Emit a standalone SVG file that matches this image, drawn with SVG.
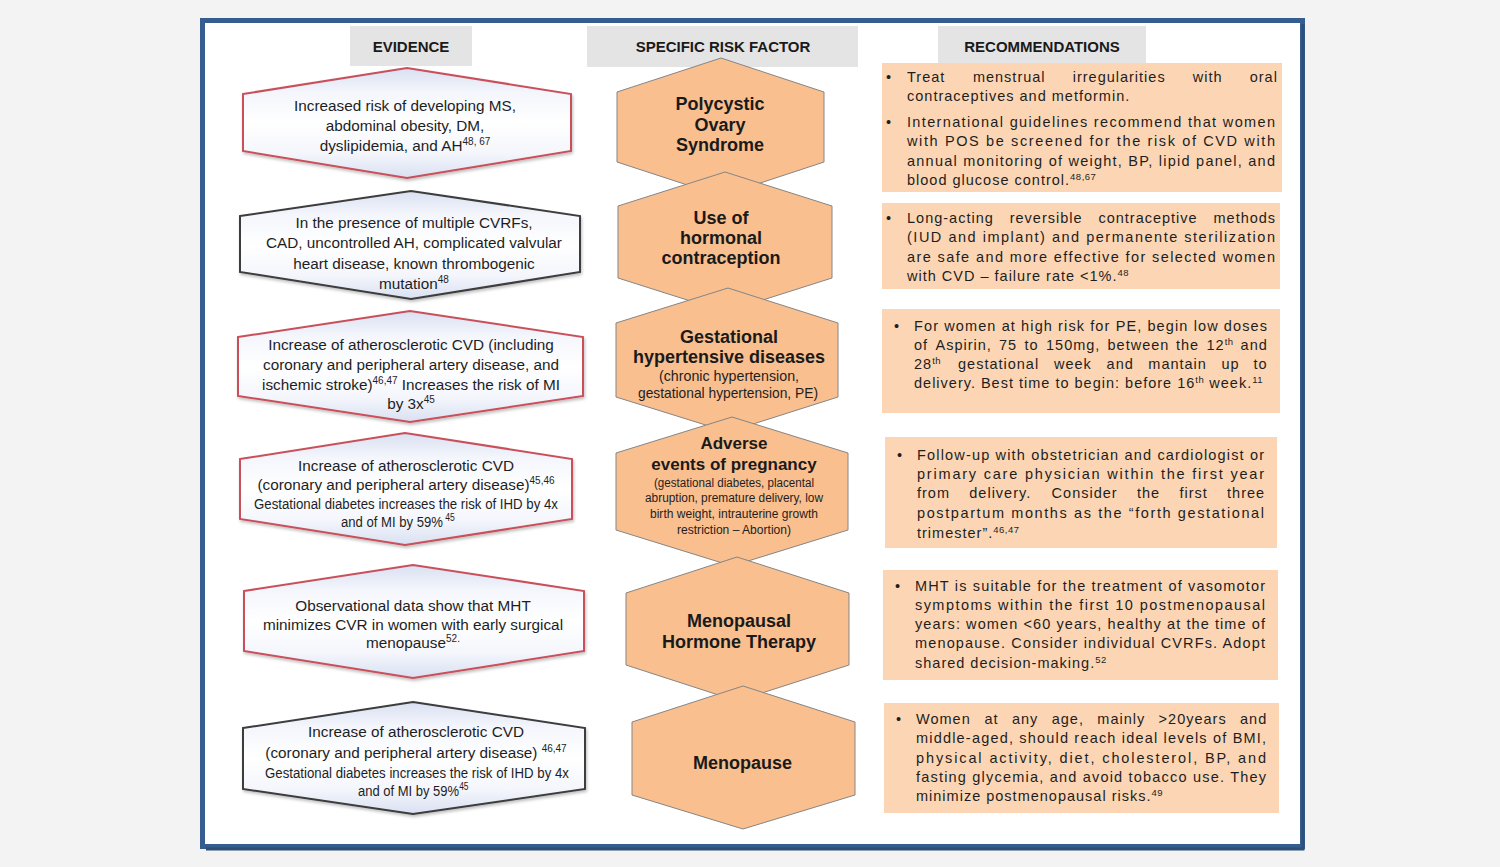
<svg xmlns="http://www.w3.org/2000/svg" width="1500" height="867" viewBox="0 0 1500 867">
<defs>
<linearGradient id="evg" x1="0" y1="0" x2="0" y2="1">
<stop offset="0" stop-color="#d9e0f1"/>
<stop offset="0.22" stop-color="#f4f6fc"/>
<stop offset="0.5" stop-color="#ffffff"/>
<stop offset="0.78" stop-color="#f4f6fc"/>
<stop offset="1" stop-color="#d9e0f1"/>
</linearGradient>
<filter id="sh" x="-5%" y="-10%" width="110%" height="125%">
<feDropShadow dx="1" dy="2" stdDeviation="1.5" flood-color="#000" flood-opacity="0.25"/>
</filter>
<style>
.hdr{fill:#e4e4e4}
.hdrt{font-family:'Liberation Sans',Arial,sans-serif;font-weight:bold;font-size:15px;fill:#1a1a1a;text-anchor:middle}
.ev{fill:url(#evg);stroke-width:2;filter:url(#sh)}
.evr{stroke:#c9505a}
.evd{stroke:#3c3c3c}
.evt{font-family:'Liberation Sans',Arial,sans-serif;font-size:15.3px;fill:#1e1e1e;text-anchor:middle}
.evc{font-family:'Liberation Sans',Arial,sans-serif;font-size:15.3px;fill:#1e1e1e}
.rf{fill:#f9bf8f;stroke:#858585;stroke-width:1}
.rft{font-family:'Liberation Sans',Arial,sans-serif;font-weight:bold;font-size:18px;fill:#1a1a1a;text-anchor:middle}
.rfs{font-family:'Liberation Sans',Arial,sans-serif;font-size:15px;fill:#1e1e1e;text-anchor:middle}
.rfx{font-family:'Liberation Sans',Arial,sans-serif;font-size:12.5px;fill:#1e1e1e;text-anchor:middle}
.rec{fill:#fcd6b4}
.rt{font-family:'Liberation Sans',Arial,sans-serif;font-size:14.5px;letter-spacing:1px;fill:#1e1e1e}
.s{font-size:9.5px;letter-spacing:0.5px}
.se{font-size:10px}
</style>
</defs>
<rect x="0" y="0" width="1500" height="867" fill="#f3f3f3"/>
<rect x="202.5" y="20.5" width="1100" height="826" fill="#ffffff" stroke="#355d8f" stroke-width="5"/>
<path d="M1303 24 V849 H206" fill="none" stroke="#2e4f78" stroke-width="3"/>

<g id="headers">
<rect class="hdr" x="350" y="26" width="122" height="40"/>
<text class="hdrt" x="411" y="51.5">EVIDENCE</text>
<rect class="hdr" x="587" y="26" width="271" height="41"/>
<text class="hdrt" x="723" y="52">SPECIFIC RISK FACTOR</text>
<rect class="hdr" x="938" y="26" width="208" height="38"/>
<text class="hdrt" x="1042" y="51.5">RECOMMENDATIONS</text>
</g>

<g id="connectors"></g>

<g id="evidence-1">
<polygon class="ev evr" points="243,94 407,68 571,94 571,151 407,178 243,151"/>
<text class="evt" x="405" y="110.5">Increased risk of developing MS,</text>
<text class="evt" x="405" y="130.5">abdominal obesity, DM,</text>
<text class="evt" x="405" y="150.5">dyslipidemia, and AH<tspan class="se" dy="-6">48, 67</tspan></text>
</g>
<g id="evidence-2">
<polygon class="ev evd" points="240,216 411,191 580,216 580,272 411,299 240,272"/>
<text class="evt" x="414" y="228">In the presence of multiple CVRFs,</text>
<text class="evt" x="414" y="248">CAD, uncontrolled AH, complicated valvular</text>
<text class="evt" x="414" y="269">heart disease, known thrombogenic</text>
<text class="evt" x="414" y="289">mutation<tspan class="se" dy="-6">48</tspan></text>
</g>
<g id="evidence-3">
<polygon class="ev evr" points="238,337 410,311 583,337 583,396 410,422 238,396"/>
<text class="evt" x="411" y="350">Increase of atherosclerotic CVD (including</text>
<text class="evt" x="411" y="370">coronary and peripheral artery disease, and</text>
<text class="evt" x="411" y="390">ischemic stroke)<tspan class="se" dy="-6">46,47</tspan><tspan dy="6"> Increases the risk of MI</tspan></text>
<text class="evt" x="411" y="409">by 3x<tspan class="se" dy="-6">45</tspan></text>
</g>
<g id="evidence-4">
<polygon class="ev evr" points="240,459 405,433 572,459 572,519 405,545 240,519"/>
<text class="evt" x="406" y="471">Increase of atherosclerotic CVD</text>
<text class="evt" x="406" y="490">(coronary and peripheral artery disease)<tspan class="se" dy="-6">45,46</tspan></text>
<text class="evc" x="254" y="508.5" textLength="304" lengthAdjust="spacingAndGlyphs">Gestational diabetes increases the risk of IHD by 4x</text>
<text class="evc" transform="translate(341,527) scale(0.857,1)">and of MI by 59%<tspan class="se" dy="-6"> 45</tspan></text>
</g>
<g id="evidence-5">
<polygon class="ev evr" points="244,591 413,565 584,591 584,651 413,678 244,651"/>
<text class="evt" x="413" y="611">Observational data show that MHT</text>
<text class="evt" x="413" y="630">minimizes CVR in women with early surgical</text>
<text class="evt" x="413" y="648">menopause<tspan class="se" dy="-6">52.</tspan></text>
</g>
<g id="evidence-6">
<polygon class="ev evd" points="243,728 413,702 585,728 585,789 413,814 243,789"/>
<text class="evt" x="416" y="737">Increase of atherosclerotic CVD</text>
<text class="evt" x="416" y="758">(coronary and peripheral artery disease) <tspan class="se" dy="-6">46,47</tspan></text>
<text class="evc" x="265" y="777.5" textLength="304" lengthAdjust="spacingAndGlyphs">Gestational diabetes increases the risk of IHD by 4x</text>
<text class="evc" transform="translate(358,796) scale(0.85,1)">and of MI by 59%<tspan class="se" dy="-6">45</tspan></text>
</g>

<g id="risk-1">
<polygon class="rf" points="721,58 824,92 824,162 721,196 617,162 617,92"/>
<text class="rft" x="720" y="110">Polycystic</text>
<text class="rft" x="720" y="130.5">Ovary</text>
<text class="rft" x="720" y="150.5">Syndrome</text>
</g>
<g id="risk-2">
<polygon class="rf" points="725,172 832,206 832,278 725,312 618,278 618,206"/>
<text class="rft" x="721" y="224">Use of</text>
<text class="rft" x="721" y="244">hormonal</text>
<text class="rft" x="721" y="264">contraception</text>
</g>
<g id="risk-3">
<polygon class="rf" points="728,288 838,323 838,397 728,432 616,397 616,323"/>
<text class="rft" x="729" y="343">Gestational</text>
<text class="rft" x="729" y="362.5">hypertensive diseases</text>
<text class="rfs" x="729" y="381" textLength="140" lengthAdjust="spacingAndGlyphs">(chronic hypertension,</text>
<text class="rfs" x="728" y="398" textLength="180" lengthAdjust="spacingAndGlyphs">gestational hypertension, PE)</text>
</g>
<g id="risk-4">
<polygon class="rf" points="732,417 848,453 848,530 732,566 616,530 616,453"/>
<text class="rft" x="734" y="449" style="font-size:17px">Adverse</text>
<text class="rft" x="734" y="470" style="font-size:17px">events of pregnancy</text>
<text class="rfx" x="734" y="486.5" textLength="160" lengthAdjust="spacingAndGlyphs">(gestational diabetes, placental</text>
<text class="rfx" x="734" y="502" textLength="178" lengthAdjust="spacingAndGlyphs">abruption, premature delivery, low</text>
<text class="rfx" x="734" y="517.5" textLength="168" lengthAdjust="spacingAndGlyphs">birth weight, intrauterine growth</text>
<text class="rfx" x="734" y="533.5" textLength="114" lengthAdjust="spacingAndGlyphs">restriction – Abortion)</text>
</g>
<g id="risk-5">
<polygon class="rf" points="737,557 849,593 849,665 737,701 626,665 626,593"/>
<text class="rft" x="739" y="626.5">Menopausal</text>
<text class="rft" x="739" y="647.5">Hormone Therapy</text>
</g>
<g id="risk-6">
<polygon class="rf" points="743,686 855,722 855,795 743,829 632,795 632,722"/>
<text class="rft" x="742.5" y="768.5">Menopause</text>
</g>

<g id="rec-1">
<rect class="rec" x="882" y="63" width="400" height="129"/>
<text class="rt" x="886" y="82">•</text>
<text class="rt" y="82"><tspan x="907">Treat</tspan><tspan x="972.9">menstrual</tspan><tspan x="1072.7">irregularities</tspan><tspan x="1192.8">with</tspan><tspan x="1249.7">oral</tspan></text>
<text class="rt" x="907" y="101">contraceptives and metformin.</text>
<text class="rt" x="886" y="127">•</text>
<text class="rt" x="907" y="127" textLength="369" lengthAdjust="spacing">International guidelines recommend that women</text>
<text class="rt" x="907" y="146" textLength="369" lengthAdjust="spacing">with POS be screened for the risk of CVD with</text>
<text class="rt" x="907" y="166" textLength="369" lengthAdjust="spacing">annual monitoring of weight, BP, lipid panel, and</text>
<text class="rt" x="907" y="185">blood glucose control.<tspan class="s" dy="-5.5">48,67</tspan></text>
</g>
<g id="rec-2">
<rect class="rec" x="882" y="203" width="398" height="86"/>
<text class="rt" x="886" y="223">•</text>
<text class="rt" y="223"><tspan x="907">Long-acting</tspan><tspan x="1009.7">reversible</tspan><tspan x="1098.4">contraceptive</tspan><tspan x="1213.5">methods</tspan></text>
<text class="rt" x="907" y="242" textLength="369" lengthAdjust="spacing">(IUD and implant) and permanente sterilization</text>
<text class="rt" x="907" y="262" textLength="369" lengthAdjust="spacing">are safe and more effective for selected women</text>
<text class="rt" x="907" y="281">with CVD – failure rate &lt;1%.<tspan class="s" dy="-5.5">48</tspan></text>
</g>
<g id="rec-3">
<rect class="rec" x="882" y="309" width="398" height="104"/>
<text class="rt" x="894" y="331">•</text>
<text class="rt" x="914" y="331" textLength="354" lengthAdjust="spacing">For women at high risk for PE, begin low doses</text>
<text class="rt" y="350"><tspan x="914">of</tspan><tspan x="935.5">Aspirin,</tspan><tspan x="999">75</tspan><tspan x="1024.5">to</tspan><tspan x="1046">150mg,</tspan><tspan x="1107.5">between</tspan><tspan x="1176">the</tspan><tspan x="1206.5">12</tspan><tspan class="s" dy="-5.5">th</tspan><tspan x="1240.6" dy="5.5">and</tspan></text>
<text class="rt" y="369"><tspan x="914">28</tspan><tspan class="s" dy="-5.5">th</tspan><tspan x="958" dy="5.5">gestational</tspan><tspan x="1054">week</tspan><tspan x="1106.6">and</tspan><tspan x="1148.3">mantain</tspan><tspan x="1221.4">up</tspan><tspan x="1253.5">to</tspan></text>
<text class="rt" x="914" y="388">delivery. Best time to begin: before 16<tspan class="s" dy="-5.5">th</tspan><tspan dy="5.5"> week.</tspan><tspan class="s" dy="-5.5">11</tspan></text>
</g>
<g id="rec-4">
<rect class="rec" x="885" y="437" width="392" height="111"/>
<text class="rt" x="897" y="460">•</text>
<text class="rt" x="917" y="460" textLength="348" lengthAdjust="spacing">Follow-up with obstetrician and cardiologist or</text>
<text class="rt" x="917" y="479" textLength="348" lengthAdjust="spacing">primary care physician within the first year</text>
<text class="rt" y="498"><tspan x="917">from</tspan><tspan x="969.3">delivery.</tspan><tspan x="1051.6">Consider</tspan><tspan x="1136.9">the</tspan><tspan x="1179.4">first</tspan><tspan x="1227.1">three</tspan></text>
<text class="rt" x="917" y="518" textLength="348" lengthAdjust="spacing">postpartum months as the “forth gestational</text>
<text class="rt" x="917" y="538">trimester”.<tspan class="s" dy="-5.5">46,47</tspan></text>
</g>
<g id="rec-5">
<rect class="rec" x="883" y="570" width="395" height="110"/>
<text class="rt" x="895" y="591">•</text>
<text class="rt" x="915" y="591" textLength="351" lengthAdjust="spacing">MHT is suitable for the treatment of vasomotor</text>
<text class="rt" x="915" y="610" textLength="351" lengthAdjust="spacing">symptoms within the first 10 postmenopausal</text>
<text class="rt" x="915" y="629" textLength="351" lengthAdjust="spacing">years: women &lt;60 years, healthy at the time of</text>
<text class="rt" x="915" y="648" textLength="351" lengthAdjust="spacing">menopause. Consider individual CVRFs. Adopt</text>
<text class="rt" x="915" y="668">shared decision-making.<tspan class="s" dy="-5.5">52</tspan></text>
</g>
<g id="rec-6">
<rect class="rec" x="884" y="703" width="395" height="110"/>
<text class="rt" x="896" y="724">•</text>
<text class="rt" y="724"><tspan x="916">Women</tspan><tspan x="984.4">at</tspan><tspan x="1011.9">any</tspan><tspan x="1051.7">age,</tspan><tspan x="1097.3">mainly</tspan><tspan x="1158.6">&gt;20years</tspan><tspan x="1240">and</tspan></text>
<text class="rt" x="916" y="743" textLength="351" lengthAdjust="spacing">middle-aged, should reach ideal levels of BMI,</text>
<text class="rt" x="916" y="763" textLength="351" lengthAdjust="spacing">physical activity, diet, cholesterol, BP, and</text>
<text class="rt" x="916" y="782" textLength="351" lengthAdjust="spacing">fasting glycemia, and avoid tobacco use. They</text>
<text class="rt" x="916" y="801">minimize postmenopausal risks.<tspan class="s" dy="-5.5">49</tspan></text>
</g>
</svg>
